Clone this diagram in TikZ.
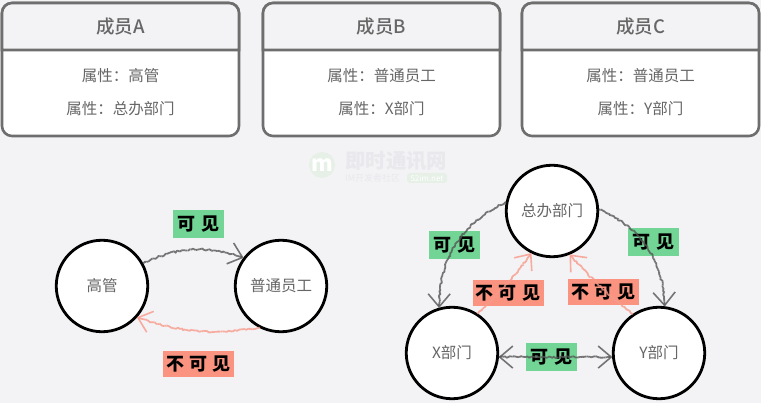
\documentclass[tikz,border=0pt]{standalone}
\usepackage{fontspec}
\setmainfont{Noto Sans CJK SC}
\newfontfamily\handfont[LetterSpace=28]{Noto Sans CJK SC}
\newfontfamily\titlefont{Noto Sans CJK SC Medium}
\usetikzlibrary{arrows.meta,decorations.pathmorphing}
\definecolor{pagebg}{HTML}{F3F3F6}
\definecolor{cardline}{HTML}{6E6E6E}
\definecolor{cardtext}{HTML}{666666}
\definecolor{seegreen}{HTML}{72D596}
\definecolor{hidered}{HTML}{FA9480}
\definecolor{pencilgray}{HTML}{555555}
\definecolor{pencilred}{HTML}{F8998A}
\definecolor{markgreen}{HTML}{E6F0E6}
\definecolor{markgray}{HTML}{E9E9ED}
\tikzset{
    card/.style={draw=cardline, line width=2.6pt, rounded corners=10pt, fill=white, minimum width=237pt, minimum height=133pt, inner sep=0pt, outer sep=0pt},
    cardtitle/.style={text=cardtext, font=\fontsize{18.5}{18.5}\titlefont},
    cardattr/.style={text=cardtext, font=\fontsize{15.5}{15.5}\selectfont},
    role/.style={circle, draw=black, line width=2.8pt, fill=white, minimum size=91.5pt, inner sep=0pt, outer sep=1pt, text=cardtext, font=\fontsize{15.5}{15.5}\selectfont},
    visible/.style={fill=seegreen, minimum width=51pt, minimum height=28pt, inner sep=0pt, font=\fontsize{18}{18}\handfont\bfseries},
    hidden/.style={fill=hidered, minimum width=71pt, minimum height=26pt, inner sep=0pt, font=\fontsize{18}{18}\handfont\bfseries},
    sketch/.style={line width=1.8pt, opacity=0.8, line join=round, dash pattern=on 1.6pt off 0.35pt, decorate,
        decoration={random steps, segment length=2pt, amplitude=0.9pt, pre length=1pt, post length=5pt}},
    seeline/.style={sketch, draw=pencilgray, -{Straight Barb[length=13pt, width=22pt, line width=1.6pt]}},
    hideline/.style={sketch, draw=pencilred, -{Straight Barb[length=13pt, width=22pt, line width=1.6pt]}},
    bothline/.style={sketch, draw=pencilgray, {Straight Barb[length=13pt, width=22pt, line width=1.6pt]}-{Straight Barb[length=13pt, width=22pt, line width=1.6pt]}},
}
\pgfmathsetseed{52}
\begin{document}
\begin{tikzpicture}[x=1pt, y=-1pt]
    \useasboundingbox[fill=pagebg] (0,0) rectangle (761,403);

    % watermark
    \node[circle, fill=markgreen, minimum size=26pt, inner sep=0pt, text=white, font=\fontsize{22}{22}\selectfont\itshape\bfseries] (logo) at (322,165) {m};
    \node[anchor=west, inner sep=0pt, text=markgray, font=\fontsize{20.4}{20.4}\selectfont\bfseries] (markname) at (345,161) {即时通讯网};
    \node[anchor=west, inner sep=0pt, text=markgray, font=\fontsize{9}{9}\selectfont] (markslogan) at (345,178) {IM开发者社区};
    \node[rounded corners=3pt, fill=markgreen, text=white, minimum width=40pt, minimum height=10pt, inner sep=0pt, font=\fontsize{8}{8}\selectfont] (marksite) at (427,178) {52im.net};

    % cards
    \foreach \card/\cx/\ca/\cb/\cc in {A/120.5/成员A/属性：高管/属性：总办部门, B/381.5/成员B/属性：普通员工/属性：X部门, C/640.5/成员C/属性：普通员工/属性：Y部门} {
        \node[card] (card\card) at (\cx,69.5) {};
        \draw[draw=cardline, line width=2.6pt, fill=pagebg, rounded corners=10pt]
            (card\card.west |- 0,50) -- (card\card.north west) -- (card\card.north east) [sharp corners] -- (card\card.east |- 0,50) -- cycle;
        \node[cardtitle] (title\card) at (\cx,27) {\ca};
        \node[cardattr] (first\card) at (\cx,76) {\cb};
        \node[cardattr] (second\card) at (\cx,109) {\cc};
    }

    % left group
    \node[role] (boss) at (102,286) {高管};
    \node[role] (staff) at (281,286) {普通员工};
    \node[visible] (bossSee) at (198.5,224) {可见};
    \node[hidden] (staffHide) at (198.5,364) {不可见};
    \draw[seeline] (boss.29) to[bend left=22] (staff.143);
    \draw[hideline] (staff.243) to[bend left=14] (boss.318);

    % right group
    \node[role] (office) at (552,211) {总办部门};
    \node[role] (deptX) at (452,353) {X部门};
    \node[role] (deptY) at (659,353) {Y部门};
    \node[visible] (officeSeeX) at (454.5,245) {可见};
    \node[visible] (officeSeeY) at (653.5,242) {可见};
    \node[hidden] (xHide) at (508,293) {不可见};
    \node[hidden] (yHide) at (603.5,292) {不可见};
    \node[visible] (xySee) at (551.5,357) {可见};
    \draw[seeline] (office.169) to[bend right=33] (deptX.106);
    \draw[seeline] (office.2) to[bend left=33] (deptY.83);
    \draw[hideline] (deptX.57) to[bend right=5] (office.244);
    \draw[hideline] (deptY.124) to[bend left=5] (office.292);
    \draw[bothline] (deptX.-5) -- (deptY.185);
\end{tikzpicture}
\end{document}
